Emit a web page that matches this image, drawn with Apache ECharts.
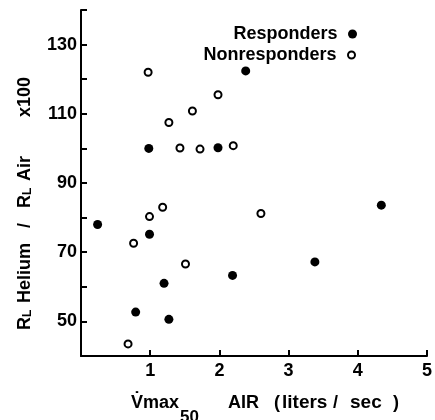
<!DOCTYPE html>
<html>
<head>
<meta charset="utf-8">
<script src="https://cdn.jsdelivr.net/npm/echarts@6/dist/echarts.min.js"></script>
<style>html,body{margin:0;padding:0;background:#fff}#c{width:435px;height:420px}</style>
</head>
<body>
<div id="c"></div>
<script>
const respX = [0.24, 0.99, 1.20, 0.79, 1.27, 0.98, 1.98, 2.38, 2.19, 3.38, 4.34];
const respY = [78, 75.2, 61, 52.7, 50.6, 100, 100.2, 122.4, 63.3, 67.2, 83.6];
const nonX = [0.97, 1.27, 1.61, 1.43, 1.72, 1.98, 2.2, 0.99, 1.18, 0.76, 1.51, 0.68, 2.6];
const nonY = [122, 107.5, 110.8, 100.1, 99.8, 115.5, 100.8, 80.3, 83, 72.6, 66.6, 43.5, 81.2];
const yLabeled = [50, 70, 90, 110, 130];
const xLabeled = [1, 2, 3, 4, 5];
const seriesNames = ['Responders', 'Nonresponders'];

const FONT = 'Liberation Sans, Arial, sans-serif';
const chart = echarts.init(document.getElementById('c'), null, {renderer: 'canvas'});
const toPairs = (xs, ys) => xs.map((x, i) => [x, ys[i]]);
const bold = s => 'bold ' + s + 'px ' + FONT;
const txt = (t, x, y, size) => ({type: 'text', x: x, y: y,
  style: {text: t, textAlign: 'left', textVerticalAlign: 'middle', fill: '#000', font: bold(size)}});

chart.setOption({
  animation: false,
  backgroundColor: '#fff',
  grid: {left: 81, right: 5, top: 10, bottom: 64, containLabel: false},
  xAxis: {
    type: 'value', min: 0, max: 5, interval: 1,
    axisLine: {lineStyle: {color: '#000', width: 2}},
    axisTick: {inside: true, length: 6, lineStyle: {color: '#000', width: 2}},
    splitLine: {show: false},
    axisLabel: {
      color: '#000', fontSize: 18, fontWeight: 'bold', fontFamily: FONT, margin: 6,
      formatter: v => xLabeled.includes(v) ? String(v) : ''
    }
  },
  yAxis: {
    type: 'value', min: 40, max: 140, interval: 10,
    axisLine: {lineStyle: {color: '#000', width: 2}},
    axisTick: {inside: true, length: 6, lineStyle: {color: '#000', width: 2}},
    splitLine: {show: false},
    axisLabel: {
      color: '#000', fontSize: 18, fontWeight: 'bold', fontFamily: FONT, margin: 4,
      formatter: v => yLabeled.includes(v) ? String(v) : ''
    }
  },
  legend: [
    {data: [seriesNames[0]], orient: 'vertical', align: 'right', right: 78, top: 25,
     itemWidth: 20, itemHeight: 9, padding: 0,
     textStyle: {color: '#000', fontSize: 18, fontWeight: 'bold', fontFamily: FONT}},
    {data: [seriesNames[1]], orient: 'vertical', align: 'right', right: 79, top: 46,
     itemWidth: 20, itemHeight: 7, padding: 0,
     textStyle: {color: '#000', fontSize: 18, fontWeight: 'bold', fontFamily: FONT}}
  ],
  series: [
    {name: seriesNames[0], type: 'scatter', symbol: 'circle', symbolSize: 9,
     itemStyle: {color: '#000', opacity: 1},
     data: toPairs(respX, respY)},
    {name: seriesNames[1], type: 'scatter', symbol: 'circle', symbolSize: 7,
     itemStyle: {color: '#fff', borderColor: '#000', borderWidth: 2, opacity: 1},
     data: toPairs(nonX, nonY)}
  ],
  graphic: [
    {type: 'text', x: 25, y: 243, rotation: Math.PI / 2,
     style: {
       text: '{r|R}{l|L}  {t|Helium   /   }{r|R}{l|L}  {t|Air}',
       textAlign: 'center', textVerticalAlign: 'middle', fill: '#000',
       rich: {
         r: {fontSize: 18, fontWeight: 'bold', fontFamily: FONT, verticalAlign: 'bottom'},
         l: {fontSize: 12, fontWeight: 'bold', fontFamily: FONT, verticalAlign: 'bottom'},
         t: {fontSize: 18, fontWeight: 'bold', fontFamily: FONT, verticalAlign: 'bottom'}
       }
     }},
    {type: 'text', x: 25, y: 97, rotation: Math.PI / 2,
     style: {text: 'x100', textAlign: 'center', textVerticalAlign: 'middle', fill: '#000',
       font: bold(18)}},
    txt('V\u0307max', 131, 403, 18),
    txt('50', 180, 417, 17),
    txt('AIR', 228, 403, 18),
    txt('(', 274, 403, 18),
    txt('liters', 282, 403, 19),
    txt('/', 333, 403, 18),
    txt('sec', 350, 403, 19),
    txt(')', 393, 403, 18)
  ]
});
</script>
</body>
</html>
